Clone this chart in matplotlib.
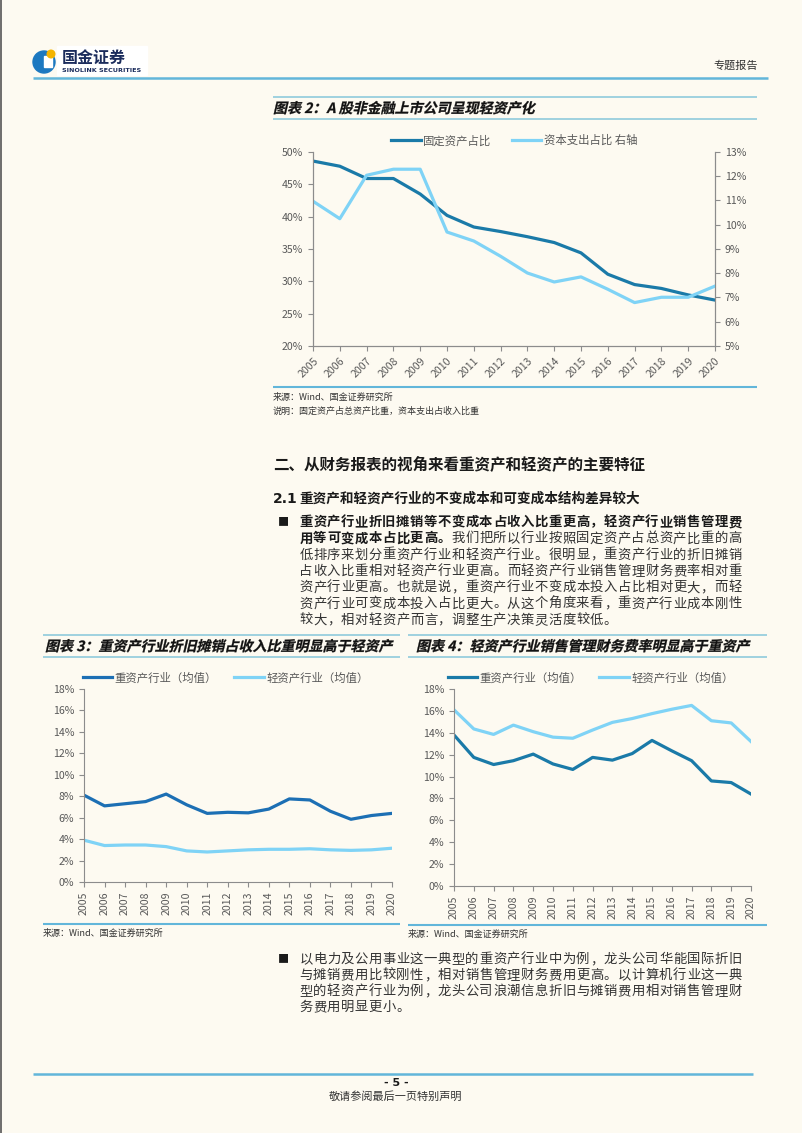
import numpy as np
import matplotlib.pyplot as plt
from matplotlib.patches import Circle, Rectangle, PathPatch
from matplotlib.textpath import TextPath
from matplotlib.font_manager import FontProperties
from matplotlib.transforms import Affine2D
from matplotlib.ticker import FuncFormatter

plt.rcParams['font.family'] = ['Noto Sans CJK SC', 'DejaVu Sans']

# ---- data ----
years = [str(y) for y in range(2005, 2021)]

# chart 2
fixed_asset_share = [48.6, 47.8, 45.9, 45.9, 43.5, 40.2, 38.4, 37.7, 36.9, 36.0, 34.4, 31.1, 29.5, 28.9, 27.9, 27.1]
capex_share = [10.97, 10.25, 12.04, 12.29, 12.29, 9.70, 9.33, 8.70, 8.01, 7.64, 7.85, 7.34, 6.79, 7.01, 7.01, 7.47]

# chart 3
heavy_da = [8.1, 7.1, 7.3, 7.5, 8.2, 7.2, 6.4, 6.5, 6.45, 6.8, 7.75, 7.65, 6.6, 5.85, 6.2, 6.4]
light_da = [3.9, 3.4, 3.45, 3.45, 3.3, 2.9, 2.8, 2.9, 3.0, 3.05, 3.05, 3.1, 3.0, 2.95, 3.0, 3.15]

# chart 4
heavy_sga = [13.8, 11.75, 11.1, 11.45, 12.05, 11.15, 10.65, 11.75, 11.5, 12.1, 13.3, 12.35, 11.45, 9.6, 9.45, 8.4]
light_sga = [16.1, 14.35, 13.85, 14.7, 14.1, 13.6, 13.5, 14.25, 14.95, 15.3, 15.75, 16.15, 16.5, 15.1, 14.9, 13.2]

# ---- page ----
W, H = 802, 1133
BG = '#fdfaf1'
DARK = '#1a7aa8'
DARK3 = '#1c6fb4'
LIGHT = '#7fd3f6'
GRAY = '#595959'
AXC = '#8c8c8c'
TEXT = '#1a1a1a'
BOXLINE = '#8fcadc'
BLUELINE = '#62b6da'

fig = plt.figure(figsize=(W / 100, H / 100), dpi=100)
fig.patch.set_facecolor(BG)
page = fig.add_axes([0, 0, 1, 1], zorder=0)
page.set_xlim(0, W)
page.set_ylim(H, 0)
page.axis('off')


def px_axes(left, top, right, bottom):
    return fig.add_axes([left / W, 1 - bottom / H, (right - left) / W, (bottom - top) / H], zorder=2)


def hline(y, x0, x1, color, lw=1.2):
    page.plot([x0, x1], [y, y], color=color, lw=lw, solid_capstyle='butt')


def text_line(x0, y, s, pitch=13.84, size=9.6, weight='normal', color=TEXT):
    for i, ch in enumerate(s):
        page.text(x0 + i * pitch + pitch / 2, y, ch, ha='center', va='center',
                  fontsize=size, fontweight=weight, color=color)


def italic_title(x0, baseline, s, size_px=14.0, color='#111111'):
    # bold slanted title (the CJK font has no italic face)
    fp = FontProperties(family='Noto Sans CJK SC', weight='bold')
    tp = TextPath((0, 0), s, size=size_px, prop=fp)
    tr = Affine2D().skew_deg(13, 0).scale(1, -1).translate(x0, baseline) + page.transData
    page.add_patch(PathPatch(tp, transform=tr, facecolor=color, edgecolor=color, lw=0.2))


pct = FuncFormatter(lambda v, p: '%d%%' % round(v))

# left page edge
page.plot([0.8, 0.8], [0, H], color='#555555', lw=1.2)

# header / logo
page.add_patch(Rectangle((57, 46), 90, 29, color='white', zorder=1))
page.add_patch(Circle((44, 62), 11, color='#1c78c0', zorder=2))
page.add_patch(Rectangle((44, 56), 8, 11, color='white', zorder=3))
page.add_patch(Circle((51, 54), 3.8, color='#f4b400', zorder=4))
page.text(62, 58, '国金证券', fontsize=11.5, fontweight='bold', color='#1b2c5c', va='center', zorder=5)
page.text(62, 70, 'SINOLINK SECURITIES', fontsize=4.6, fontweight='bold', color='#1b2c5c',
          va='center', family='DejaVu Sans', zorder=5)
page.text(758, 66, '专题报告', fontsize=8, color='#333333', ha='right', va='center')
hline(78, 33, 768, BLUELINE, 1.8)

# ---- chart 2 ----
hline(97, 273, 757, BOXLINE)
hline(119, 273, 757, BOXLINE)
italic_title(273, 113, '图表 2：A 股非金融上市公司呈现轻资产化')

x = np.arange(len(years))
ax2 = px_axes(313, 152, 715, 346)
ax2.set_facecolor('none')
l1, = ax2.plot(x, fixed_asset_share, color=DARK, lw=2.3, label='固定资产占比')
ax2r = ax2.twinx()
l2, = ax2r.plot(x, capex_share, color=LIGHT, lw=2.3, label='资本支出占比 右轴')
ax2.set_xlim(0, 15)
ax2.set_ylim(20, 50)
ax2.set_yticks(range(20, 51, 5))
ax2r.set_ylim(5, 13)
ax2r.set_yticks(range(5, 14))
ax2.yaxis.set_major_formatter(pct)
ax2r.yaxis.set_major_formatter(pct)
ax2.set_xticks(x)
ax2.set_xticklabels(years, rotation=45, ha='right', rotation_mode='anchor')
for a in (ax2, ax2r):
    a.spines['top'].set_visible(False)
    for s in ('left', 'right', 'bottom'):
        a.spines[s].set_color(AXC)
    a.tick_params(colors=AXC, labelcolor=GRAY, labelsize=7.6, length=3.5, width=0.8)
ax2.legend(handles=[l1, l2], loc='lower center', bbox_to_anchor=(0.5, 1.0), ncol=2, frameon=False,
           fontsize=8.2, handlelength=2.6, handletextpad=0.2, columnspacing=1.8, borderaxespad=0.1,
           labelcolor=GRAY)

hline(387, 273, 757, BLUELINE, 1.5)
page.text(273, 397, '来源：Wind、国金证券研究所', fontsize=6.5, color='#333333', va='center')
page.text(273, 411, '说明：固定资产占总资产比重，资本支出占收入比重', fontsize=6.5, color='#333333', va='center')

# ---- section text ----
page.text(273, 465, '二、从财务报表的视角来看重资产和轻资产的主要特征', fontsize=11.2,
          fontweight='bold', color=TEXT, va='center')
page.text(273, 499, '2.1', fontsize=10, fontweight='bold', color=TEXT, va='center', family='DejaVu Sans')
page.text(299, 499, '重资产和轻资产行业的不变成本和可变成本结构差异较大', fontsize=9.8,
          fontweight='bold', color=TEXT, va='center')

para1 = [
    '重资产行业折旧摊销等不变成本占收入比重更高，轻资产行业销售管理费',
    '用等可变成本占比更高。我们把所以行业按照固定资产占总资产比重的高',
    '低排序来划分重资产行业和轻资产行业。很明显，重资产行业的折旧摊销',
    '占收入比重相对轻资产行业更高。而轻资产行业销售管理财务费率相对重',
    '资产行业更高。也就是说，重资产行业不变成本投入占比相对更大，而轻',
    '资产行业可变成本投入占比更大。从这个角度来看，重资产行业成本刚性',
    '较大，相对轻资产而言，调整生产决策灵活度较低。',
]
page.text(278, 522, '■', fontsize=8, color=TEXT, va='center')
for i, line in enumerate(para1):
    y = 522 + i * 16.3
    if i == 0:
        text_line(299, y, line, weight='bold')
    elif i == 1:
        text_line(299, y, line[:11], weight='bold')
        text_line(299 + 11 * 13.84, y, line[11:], color='#333333')
    else:
        text_line(299, y, line, color='#333333')

# ---- chart 3 ----
hline(635, 43, 400, BOXLINE)
hline(657, 43, 400, BOXLINE)
italic_title(45, 651, '图表 3：重资产行业折旧摊销占收入比重明显高于轻资产')

ax3 = px_axes(84, 689, 392, 882)
ax3.set_facecolor('none')
ax3.plot(x, heavy_da, color=DARK3, lw=2.3, label='重资产行业（均值）')
ax3.plot(x, light_da, color=LIGHT, lw=2.3, label='轻资产行业（均值）')
ax3.set_xlim(0, 15)
ax3.set_ylim(0, 18)
ax3.set_yticks(range(0, 19, 2))
ax3.yaxis.set_major_formatter(pct)
ax3.set_xticks(x)
ax3.set_xticklabels(years, rotation=90)
ax3.legend(loc='lower center', bbox_to_anchor=(0.46, 1.0), ncol=2, frameon=False, fontsize=8.2,
           handlelength=2.6, handletextpad=0.2, columnspacing=1.5, borderaxespad=0.1, labelcolor=GRAY)

hline(924, 43, 400, BLUELINE, 1.5)
page.text(43, 933, '来源：Wind、国金证券研究所', fontsize=6.5, color='#333333', va='center')

# ---- chart 4 ----
hline(635, 408, 767, BOXLINE)
hline(657, 408, 767, BOXLINE)
italic_title(416, 651, '图表 4：轻资产行业销售管理财务费率明显高于重资产')

ax4 = px_axes(454, 689, 751, 886)
ax4.set_facecolor('none')
ax4.plot(x, heavy_sga, color=DARK, lw=2.3, label='重资产行业（均值）')
ax4.plot(x, light_sga, color=LIGHT, lw=2.3, label='轻资产行业（均值）')
ax4.set_xlim(0, 15)
ax4.set_ylim(0, 18)
ax4.set_yticks(range(0, 19, 2))
ax4.yaxis.set_major_formatter(pct)
ax4.set_xticks(x)
ax4.set_xticklabels(years, rotation=90)
ax4.legend(loc='lower center', bbox_to_anchor=(0.46, 1.0), ncol=2, frameon=False, fontsize=8.2,
           handlelength=2.6, handletextpad=0.2, columnspacing=1.5, borderaxespad=0.1, labelcolor=GRAY)

for a in (ax3, ax4):
    a.spines['top'].set_visible(False)
    a.spines['right'].set_visible(False)
    a.spines['left'].set_color(AXC)
    a.spines['bottom'].set_color(AXC)
    a.tick_params(colors=AXC, labelcolor=GRAY, labelsize=7.6, length=3.5, width=0.8)

hline(925, 408, 767, BLUELINE, 1.5)
page.text(408, 934, '来源：Wind、国金证券研究所', fontsize=6.5, color='#333333', va='center')

# ---- second paragraph ----
para2 = [
    '以电力及公用事业这一典型的重资产行业中为例，龙头公司华能国际折旧',
    '与摊销费用比较刚性，相对销售管理财务费用更高。以计算机行业这一典',
    '型的轻资产行业为例，龙头公司浪潮信息折旧与摊销费用相对销售管理财',
    '务费用明显更小。',
]
page.text(278, 959, '■', fontsize=8, color=TEXT, va='center')
for i, line in enumerate(para2):
    text_line(299, 959 + i * 16, line, color='#333333')

# ---- footer ----
hline(1074, 33, 753, BLUELINE, 1.8)
page.text(396, 1083, '- 5 -', fontsize=8, fontweight='bold', color=TEXT, ha='center', va='center',
          family='DejaVu Sans')
page.text(396, 1097, '敬请参阅最后一页特别声明', fontsize=8, color='#333333', ha='center', va='center')

fig.savefig('out.png', dpi=100, facecolor=BG)
